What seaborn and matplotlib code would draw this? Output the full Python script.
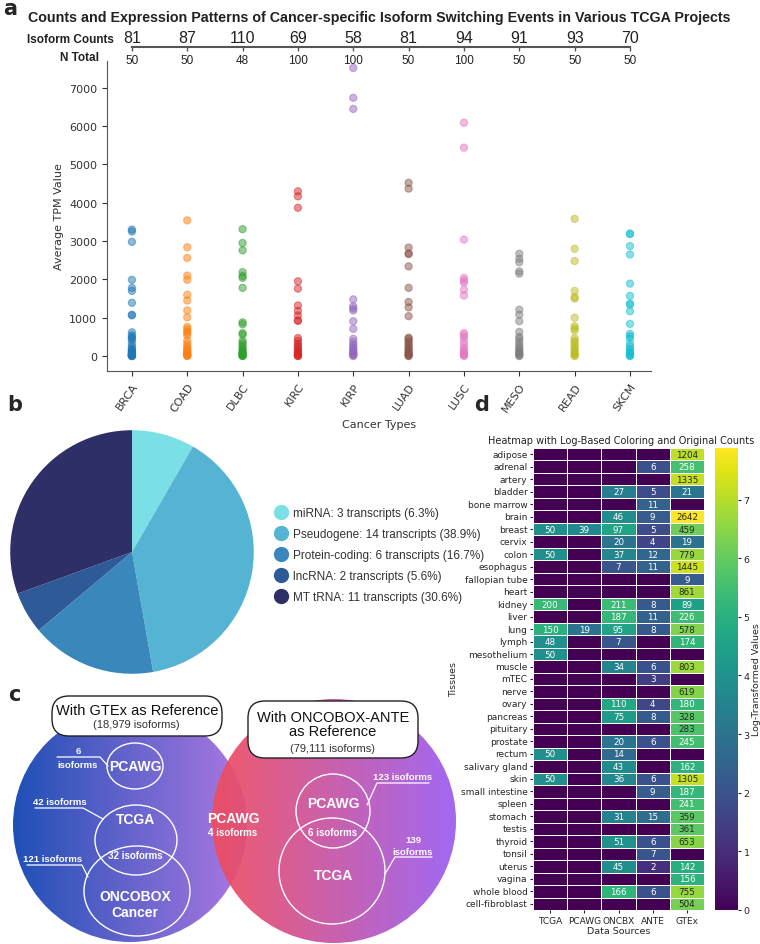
import numpy as np
import pandas as pd
import seaborn as sns
import matplotlib.pyplot as plt
from matplotlib.patches import Circle, Ellipse, FancyBboxPatch
from matplotlib.lines import Line2D
from matplotlib.colors import LinearSegmentedColormap

# ---- panel a data
cancer_types = ['BRCA', 'COAD', 'DLBC', 'KIRC', 'KIRP', 'LUAD', 'LUSC', 'MESO', 'READ', 'SKCM']
isoform_counts = [81, 87, 110, 69, 58, 81, 94, 91, 93, 70]
n_total = [50, 50, 48, 100, 100, 50, 100, 50, 50, 50]

tpm_brca = [3300, 3250, 2980, 1990, 1780, 1700, 1390, 1080, 1060, 620, 540, 500, 460, 420,
            330, 250, 200, 160, 130, 110, 90, 70, 50, 40, 30, 20, 10, 5, 2, 0]
tpm_coad = [3540, 2840, 2560, 2100, 1990, 1600, 1450, 1190, 1010, 760, 700, 640, 600, 540,
            400, 320, 250, 200, 150, 120, 90, 60, 40, 20, 10, 0]
tpm_dlbc = [3310, 2950, 2760, 2190, 2090, 2040, 1780, 880, 830, 600, 560, 400, 340, 280,
            220, 170, 130, 100, 70, 50, 30, 15, 5, 0]
tpm_kirc = [4300, 4170, 3870, 1950, 1760, 1320, 1180, 1060, 930, 920, 470, 400, 330, 280,
            230, 180, 140, 100, 70, 40, 20, 5, 0]
tpm_kirp = [7520, 6740, 6450, 1480, 1300, 1240, 1190, 910, 710, 450, 370, 300, 250, 200,
            160, 120, 90, 60, 40, 20, 0]
tpm_luad = [4520, 4370, 2830, 2680, 2660, 2340, 1780, 1410, 1270, 1040, 480, 450, 400, 350,
            300, 250, 200, 160, 120, 90, 60, 30, 10, 0]
tpm_lusc = [6090, 5440, 3040, 2040, 1970, 1910, 1730, 1580, 600, 540, 480, 370, 280, 200,
            140, 90, 50, 20, 0]
tpm_meso = [2670, 2540, 2450, 2210, 2150, 1210, 1080, 910, 630, 500, 450, 370, 300, 240,
            190, 140, 100, 70, 40, 15, 0]
tpm_read = [3580, 2800, 2480, 1700, 1540, 1500, 1000, 780, 720, 670, 470, 400, 350, 280,
            220, 170, 120, 80, 50, 20, 0]
tpm_skcm = [3200, 3180, 2870, 2650, 1890, 1570, 1370, 1340, 1170, 840, 580, 520, 460, 330,
            250, 180, 130, 90, 60, 30, 10, 0]
tpm_all = [tpm_brca, tpm_coad, tpm_dlbc, tpm_kirc, tpm_kirp,
           tpm_luad, tpm_lusc, tpm_meso, tpm_read, tpm_skcm]

# ---- panel b data
pie_labels = ['miRNA: 3 transcripts (6.3%)', 'Pseudogene: 14 transcripts (38.9%)',
              'Protein-coding: 6 transcripts (16.7%)', 'lncRNA: 2 transcripts (5.6%)',
              'MT tRNA: 11 transcripts (30.6%)']
pie_values = [3, 14, 6, 2, 11]
pie_colors = ['#7be0e6', '#55b3d4', '#3a88bb', '#2e5b97', '#2d2f66']

# ---- panel d data
tissues = ['adipose', 'adrenal', 'artery', 'bladder', 'bone marrow', 'brain', 'breast',
           'cervix', 'colon', 'esophagus', 'fallopian tube', 'heart', 'kidney', 'liver',
           'lung', 'lymph', 'mesothelium', 'muscle', 'mTEC', 'nerve', 'ovary', 'pancreas',
           'pituitary', 'prostate', 'rectum', 'salivary gland', 'skin', 'small intestine',
           'spleen', 'stomach', 'testis', 'thyroid', 'tonsil', 'uterus', 'vagina',
           'whole blood', 'cell-fibroblast']
sources = ['TCGA', 'PCAWG', 'ONCBX', 'ANTE', 'GTEx']
tcga = [0, 0, 0, 0, 0, 0, 50, 0, 50, 0, 0, 0, 200, 0, 150, 48, 50, 0, 0, 0, 0, 0, 0, 0,
        50, 0, 50, 0, 0, 0, 0, 0, 0, 0, 0, 0, 0]
pcawg = [0, 0, 0, 0, 0, 0, 39, 0, 0, 0, 0, 0, 0, 0, 19, 0, 0, 0, 0, 0, 0, 0, 0, 0,
         0, 0, 0, 0, 0, 0, 0, 0, 0, 0, 0, 0, 0]
oncbx = [0, 0, 0, 27, 0, 46, 97, 20, 37, 7, 0, 0, 211, 187, 95, 7, 0, 34, 0, 0, 110, 75, 0,
         20, 14, 43, 36, 0, 0, 31, 0, 51, 0, 45, 0, 166, 0]
ante = [0, 6, 0, 5, 11, 9, 5, 4, 12, 11, 0, 0, 8, 11, 8, 0, 0, 6, 3, 0, 4, 8, 0, 6, 0, 0,
        6, 9, 0, 15, 0, 6, 7, 2, 0, 6, 0]
gtex = [1204, 258, 1335, 21, 0, 2642, 459, 19, 779, 1445, 9, 861, 89, 226, 578, 174, 0, 803,
        0, 619, 180, 328, 283, 245, 0, 162, 1305, 187, 241, 359, 361, 653, 0, 142, 156,
        755, 504]

# ---- panel c labels
left_ref = 'With GTEx as Reference'
left_ref_n = '(18,979 isoforms)'
right_ref = 'With ONCOBOX-ANTE\nas Reference'
right_ref_n = '(79,111 isoforms)'

sns.set_style('ticks')
plt.rcParams['font.family'] = ['DejaVu Sans']
ARIAL = ['Liberation Sans', 'DejaVu Sans']

W, H = 760, 945
fig = plt.figure(figsize=(W / 100, H / 100), dpi=100)


def fx(px):
    return px / W


def fy(py):
    return 1 - py / H


# ================= panel a
fig.text(fx(3), fy(-1), 'a', fontsize=15, fontweight='bold', va='top', ha='left')
fig.text(fx(379), fy(18), 'Counts and Expression Patterns of Cancer-specific Isoform Switching '
         'Events in Various TCGA Projects', family=ARIAL, fontsize=10.3, fontweight='bold',
         ha='center', va='center', color='#222222')

xl = (-0.45, 9.38)
ax = fig.add_axes([fx(107), fy(372), fx(651) - fx(107), (372 - 62) / H])
df = pd.DataFrame({'Cancer': np.repeat(cancer_types, [len(v) for v in tpm_all]),
                   'TPM': np.concatenate(tpm_all)})
sns.stripplot(data=df, x='Cancer', y='TPM', hue='Cancer', palette='tab10', jitter=False,
              size=5.2, alpha=0.5, linewidth=0.8, edgecolor='face', legend=False, ax=ax)
ax.set_xlim(*xl)
ax.set_ylim(-390, 7700)
ax.set_yticks(range(0, 7001, 1000))
sns.despine(ax=ax)
for s in ['left', 'bottom']:
    ax.spines[s].set_color('#555555')
ax.tick_params(labelsize=8, colors='#333333')
plt.setp(ax.get_xticklabels(), rotation=55, ha='right', rotation_mode='anchor')
ax.set_xlabel('Cancer Types', fontsize=8, color='#333333')
ax.set_ylabel('Average TPM Value', fontsize=8, color='#333333')

hax = fig.add_axes([fx(107), fy(48), fx(651) - fx(107), 20 / H])
hax.set_facecolor('none')
hax.set_xlim(*xl)
hax.set_ylim(0, 1)
for s in ['top', 'left', 'right']:
    hax.spines[s].set_visible(False)
hax.spines['bottom'].set_bounds(0, 9)
hax.spines['bottom'].set_color('#555555')
hax.spines['bottom'].set_linewidth(1.5)
hax.set_yticks([])
hax.set_xticks(range(len(cancer_types)))
hax.set_xticklabels([str(v) for v in n_total], family=ARIAL, fontsize=8.5)
hax.tick_params(axis='x', length=3, width=1, pad=2, colors='#555555', labelcolor='#222222')
for i, c in enumerate(isoform_counts):
    hax.text(i, 0.1, str(c), ha='center', va='bottom', family=ARIAL, fontsize=11.5,
             color='#222222')
fig.text(fx(70), fy(40), 'Isoform Counts', family=ARIAL, fontsize=8.5, fontweight='bold',
         ha='center', va='center', color='#222222')
fig.text(fx(80), fy(58), 'N Total', family=ARIAL, fontsize=8.5, fontweight='bold',
         ha='center', va='center', color='#222222')

# ================= panel b
fig.text(fx(7), fy(395), 'b', fontsize=15, fontweight='bold', va='top', ha='left')
pax = fig.add_axes([fx(9), fy(676), 246 / W, 246 / H])
pax.pie(pie_values, colors=pie_colors, startangle=90, counterclock=False, radius=1,
        wedgeprops={'linewidth': 0})
pax.set_xlim(-1.01, 1.01)
pax.set_ylim(-1.01, 1.01)
handles = [Line2D([], [], marker='o', linestyle='', markersize=11, markerfacecolor=c,
                  markeredgecolor='none') for c in pie_colors]
fig.legend(handles, pie_labels, loc='center left', bbox_to_anchor=(fx(262), fy(556)),
           frameon=False, prop={'family': ARIAL, 'size': 8.5}, handletextpad=0.2,
           labelspacing=0.75, handlelength=1.5, labelcolor='#333333')

# ================= panel c
fig.text(fx(8), fy(685), 'c', fontsize=15, fontweight='bold', va='top', ha='left')
vax = fig.add_axes([0, 0, 470 / W, 255 / H])
vax.axis('off')


def grad_circle(a, cx, cy, r, c1, c2, alpha=1.0, z=1):
    cmap = LinearSegmentedColormap.from_list('g', [c1, c2])
    grad = np.linspace(0, 1, 256).reshape(1, -1)
    im = a.imshow(grad, cmap=cmap, extent=(cx - r, cx + r, cy + r, cy - r), aspect='auto',
                  alpha=alpha, zorder=z, interpolation='bilinear')
    clip = Circle((cx, cy), r, transform=a.transData, facecolor='none', edgecolor='none')
    a.add_patch(clip)
    im.set_clip_path(clip)


grad_circle(vax, 130, 826, 117, '#1f50b6', '#ad78e2', z=1)
grad_circle(vax, 334, 822, 122, '#f04d5e', '#9a5df2', alpha=0.93, z=2)

wc = dict(facecolor='none', edgecolor='white', linewidth=1.0, zorder=4)
vax.add_patch(Ellipse((135, 767), 56, 46, **wc))
vax.add_patch(Ellipse((136, 841), 82, 70, **wc))
vax.add_patch(Ellipse((137, 892), 106, 90, **wc))
vax.add_patch(Circle((333, 812), 37, **wc))
vax.add_patch(Circle((332, 872), 53, **wc))

bt = dict(color='white', fontweight='bold', family=ARIAL, ha='center', va='center', zorder=5)
vax.text(135, 767, 'PCAWG', fontsize=10, **bt)
vax.text(135, 820, 'TCGA', fontsize=10, **bt)
vax.text(135, 856, '32 isoforms', fontsize=7, **bt)
vax.text(135, 897, 'ONCOBOX', fontsize=10, **bt)
vax.text(135, 913, 'Cancer', fontsize=10, **bt)
vax.text(333, 804, 'PCAWG', fontsize=10, **bt)
vax.text(333, 833, '6 isoforms', fontsize=7, **bt)
vax.text(333, 876, 'TCGA', fontsize=10, **bt)
vax.text(233, 819, 'PCAWG', fontsize=10, **bt)
vax.text(233, 833, '4 isoforms', fontsize=7, **bt)

# callouts
vax.text(78, 752, '6', fontsize=6.8, **bt)
vax.text(78, 765, 'isoforms', fontsize=6.8, **bt)
vax.text(60, 803, '42 isoforms', fontsize=6.8, **bt)
vax.text(53, 860, '121 isoforms', fontsize=6.8, **bt)
vax.text(403, 778, '123 isoforms', fontsize=6.8, **bt)
vax.text(413, 841, '139', fontsize=6.8, **bt)
vax.text(413, 853, 'isoforms', fontsize=6.8, **bt)
lk = dict(color='white', linewidth=0.9, zorder=5)
vax.plot([57, 100, 108], [758, 758, 767], **lk)
vax.plot([35, 83, 103], [809, 809, 820], **lk)
vax.plot([27, 82, 88], [866, 866, 878], **lk)
vax.plot([429, 377, 367], [784, 784, 806], **lk)
vax.plot([432, 395, 385], [858, 858, 875], **lk)

bx = dict(boxstyle='round,pad=0,rounding_size=17', facecolor='white', edgecolor='#222222',
          linewidth=1.0, zorder=6)
vax.add_patch(FancyBboxPatch((52, 697), 170, 40, **bx))
vax.add_patch(FancyBboxPatch((248, 702), 170, 57, **bx))
vax.text(137, 711, left_ref, fontsize=10.5, family=ARIAL, color='#111111', ha='center',
         va='center', zorder=7)
vax.text(136, 725, left_ref_n, fontsize=8, family=ARIAL, color='#333333', ha='center',
         va='center', zorder=7)
vax.text(333, 725, right_ref, fontsize=10.5, linespacing=1.05, family=ARIAL, color='#111111',
         ha='center', va='center', zorder=7)
vax.text(333, 749, right_ref_n, fontsize=8, family=ARIAL, color='#333333', ha='center',
         va='center', zorder=7)
vax.set_xlim(0, 470)
vax.set_ylim(945, 690)

# ================= panel d
fig.text(fx(474), fy(395), 'd', fontsize=15, fontweight='bold', va='top', ha='left')
counts = pd.DataFrame({'TCGA': tcga, 'PCAWG': pcawg, 'ONCBX': oncbx, 'ANTE': ante,
                       'GTEx': gtex}, index=tissues)[sources]
log_vals = np.log1p(counts)
annot = counts.map(lambda v: str(v) if v > 0 else '')
hmax = fig.add_axes([fx(533), fy(911), (704 - 533) / W, (911 - 449) / H])
cax = fig.add_axes([fx(715), fy(911), 23 / W, (911 - 449) / H])
sns.heatmap(log_vals, annot=annot, fmt='', cmap='viridis', linewidths=0.6, linecolor='white',
            ax=hmax, cbar_ax=cax, annot_kws={'fontsize': 6.3}, yticklabels=tissues,
            xticklabels=sources)
hmax.tick_params(labelsize=6.5, length=2.5, pad=1.5)
plt.setp(hmax.get_xticklabels(), rotation=0)
plt.setp(hmax.get_yticklabels(), rotation=0)
hmax.set_xlabel('Data Sources', fontsize=6.8, labelpad=1)
hmax.set_ylabel('Tissues', fontsize=6.8, labelpad=2)
cax.tick_params(labelsize=6.8, length=2.5, pad=1.5)
cax.set_ylabel('Log-Transformed Values', fontsize=6.8, labelpad=2)
fig.text(fx(621), fy(441), 'Heatmap with Log-Based Coloring and Original Counts', fontsize=7,
         ha='center', va='center', color='#222222')

fig.savefig('out.png', dpi=100)
